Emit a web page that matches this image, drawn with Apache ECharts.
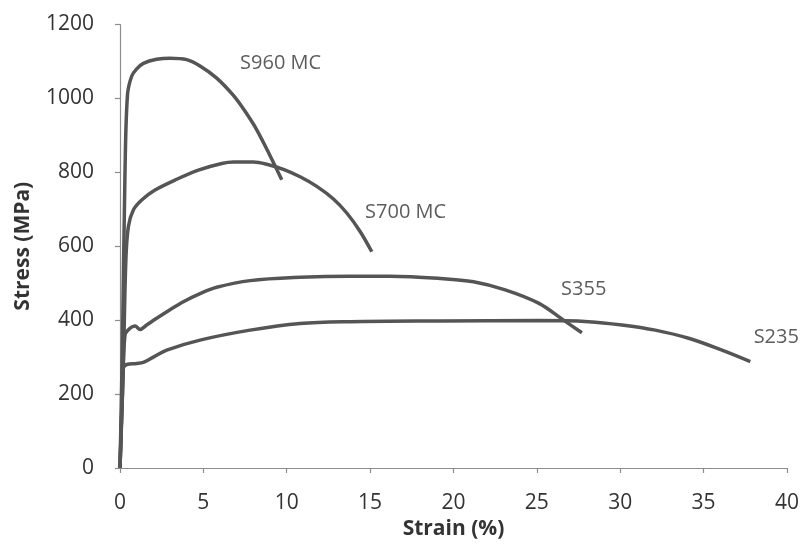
<!DOCTYPE html>
<html>
<head>
<meta charset="utf-8">
<script src="https://cdn.jsdelivr.net/npm/echarts@6/dist/echarts.min.js"></script>
<style>
  html, body { margin: 0; padding: 0; background: #ffffff; }
  #chart { width: 802px; height: 547px; }
</style>
</head>
<body>
<div id="chart"></div>
<script>
// Engineering stress-strain curves for four structural steel grades
const s960Strain = [0, 0.15, 0.3, 0.45, 0.7, 1.0, 1.4, 2.2, 3.0, 4.0, 4.8, 5.8, 6.8, 7.5, 8.2, 9.0, 9.7];
const s960Stress = [0, 350, 800, 1010, 1060, 1080, 1095, 1106, 1109, 1105, 1088, 1055, 1008, 965, 915, 845, 780];

const s700Strain = [0, 0.2, 0.35, 0.5, 0.8, 1.3, 2.1, 3.3, 4.7, 6.1, 6.8, 8.0, 8.8, 9.8, 10.8, 11.8, 12.8, 13.6, 14.4, 15.1];
const s700Stress = [0, 280, 560, 653, 698, 725, 752, 779, 806, 824, 828, 828, 822, 808, 788, 762, 728, 690, 640, 585];

const s355Strain = [0, 0.15, 0.3, 0.6, 0.9, 1.2, 1.6, 2.2, 3.0, 3.8, 4.8, 5.8, 7.8, 10.8, 13.8, 16.2, 19.2, 21.2, 23.1, 25.1, 26.6, 27.7];
const s355Stress = [0, 200, 360, 378, 384, 375, 387, 405, 428, 450, 472, 489, 507, 516, 519, 519, 513, 504, 482, 446, 400, 366];

const s235Strain = [0, 0.1, 0.2, 0.4, 1.0, 1.4, 2.0, 2.8, 4.8, 7.8, 10.8, 13.8, 19.2, 25.1, 28.1, 30.1, 32.1, 34.1, 36.1, 37.8];
const s235Stress = [0, 150, 270, 280, 283, 286, 300, 319, 346, 373, 391, 396, 398, 399, 396, 387, 373, 351, 319, 288];

// Grade labels placed next to each curve (strain %, stress MPa)
const gradeNames  = ['S960 MC', 'S700 MC', 'S355', 'S235'];
const gradeStrain = [7.2, 14.7, 26.45, 38.0];
const gradeStress = [1096, 693, 484, 353];

const xTicks = { min: 0, max: 40, interval: 5 };
const yTicks = { min: 0, max: 1200, interval: 200 };

const pairs = (xs, ys) => xs.map((x, i) => [x, ys[i]]);

const lineColor = '#555555';
const textColor = '#333333';
const axisColor = '#8c8c8c';
const font = 'Open Sans';

function curve(name, xs, ys) {
  return {
    name: name,
    type: 'line',
    data: pairs(xs, ys),
    smooth: 0.35,
    showSymbol: false,
    lineStyle: { color: lineColor, width: 3.5 },
    emphasis: { disabled: true },
    z: 2
  };
}

const chart = echarts.init(document.getElementById('chart'), null, { renderer: 'canvas' });

chart.setOption({
  backgroundColor: '#ffffff',
  animation: false,
  grid: { left: 120, right: 14, top: 24.5, bottom: 79 },
  xAxis: {
    type: 'value',
    min: xTicks.min, max: xTicks.max, interval: xTicks.interval,
    name: 'Strain (%)',
    nameLocation: 'middle',
    nameGap: 51,
    nameTextStyle: { fontFamily: font, fontSize: 21, fontWeight: 'bold', color: textColor },
    axisLine: { lineStyle: { color: axisColor, width: 1.2 } },
    axisTick: { show: true, length: 5, lineStyle: { color: axisColor, width: 1.2 } },
    axisLabel: { fontFamily: font, fontSize: 21, color: textColor, margin: 25, formatter: v => String(v) },
    splitLine: { show: false }
  },
  yAxis: {
    type: 'value',
    min: yTicks.min, max: yTicks.max, interval: yTicks.interval,
    name: 'Stress (MPa)',
    nameLocation: 'middle',
    nameGap: 86,
    nameTextStyle: { fontFamily: font, fontSize: 21, fontWeight: 'bold', color: textColor },
    axisLine: { show: true, lineStyle: { color: axisColor, width: 1.2 } },
    axisTick: { show: true, length: 5, lineStyle: { color: axisColor, width: 1.2 } },
    axisLabel: { fontFamily: font, fontSize: 21, color: textColor, margin: 26, formatter: v => String(v) },
    splitLine: { show: false }
  },
  series: [
    curve('S960 MC', s960Strain, s960Stress),
    curve('S700 MC', s700Strain, s700Stress),
    curve('S355', s355Strain, s355Stress),
    curve('S235', s235Strain, s235Stress),
    {
      type: 'scatter',
      symbolSize: 0,
      silent: true,
      data: gradeNames.map((n, i) => ({ value: [gradeStrain[i], gradeStress[i]], name: n })),
      label: {
        show: true,
        position: 'inside',
        align: 'left',
        verticalAlign: 'middle',
        formatter: p => p.name,
        fontFamily: font,
        fontSize: 20,
        color: textColor
      },
      z: 3
    }
  ]
});
</script>
</body>
</html>
